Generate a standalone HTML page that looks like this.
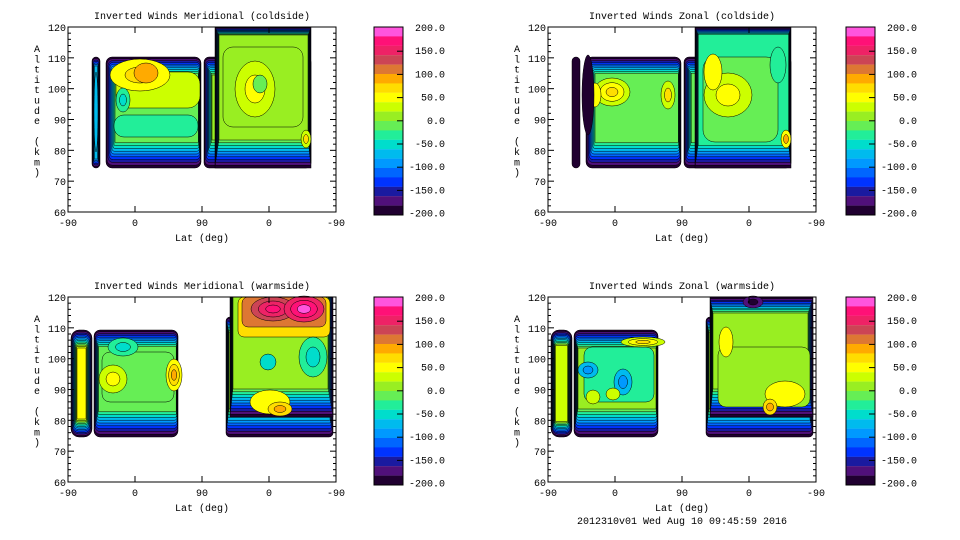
<!DOCTYPE html>
<html><head><meta charset="utf-8">
<style>
html,body{margin:0;padding:0;background:#fff;}
svg{display:block;}
text{font-family:"Liberation Mono",monospace;font-size:10px;fill:#000;}
</style></head>
<body>
<svg id="s" width="960" height="540" viewBox="0 0 960 540" xmlns="http://www.w3.org/2000/svg"></svg>
<script>
const C=["#200030","#50107a","#1a1aa0","#0033ff","#0066ff","#0099ff","#00bbee","#00ddcc","#22ee99","#66ee55","#99ee22","#ccff00","#ffff00","#ffdd00","#ffaa00","#dd7733","#cc4455","#ee2266","#ff1177","#ff55dd"];
const s=document.getElementById('s');let h='';
function band(r,bx,by){
 const [x,y,w,hh,rad,top,sl,st,sr,sb]=r;
 for(let i=0;i<=top;i++){const X=x+i*sl,Y=y+i*st,W=w-i*(sl+sr),H=hh-i*(st+sb);if(W<=1||H<=1)break;
  h+=`<rect x="${bx+X}" y="${by+Y}" width="${W}" height="${H}" rx="${Math.max(0,rad-i*0.6)}" fill="${C[i]}" stroke="#000" stroke-width="0.5"/>`;}
}
function sheet(r,bx,by){const [x,y,w,hh,l,rx]=r;
 h+=`<rect x="${bx+x}" y="${by+y}" width="${w}" height="${hh}" rx="${rx||6}" fill="${C[l]}" stroke="#000" stroke-width="0.5"/>`;}
function blob(b,bx,by){
 const [cx,cy,rx,ry,lv]=b;
 lv.forEach((l,i)=>{const f=1-i/lv.length;h+=`<ellipse cx="${bx+cx}" cy="${by+cy}" rx="${rx*f}" ry="${ry*f}" fill="${C[l]}" stroke="#000" stroke-width="0.5"/>`;});
}
function panel(bx,by,title,regs,sheets,blobs,cbx){
 regs.forEach(r=>band(r,bx,by));
 sheets.forEach(r=>sheet(r,bx,by));
 blobs.forEach(b=>blob(b,bx,by));
 h+=`<rect x="${bx}" y="${by}" width="268" height="185" fill="none" stroke="#000" stroke-width="1"/>`;
 h+=`<text x="${bx+134}" y="${by-8}" text-anchor="middle">${title}</text>`;
 for(let k=0;k<=30;k++){const y=by+185-k*185/30;const L=(k%5==0)?6:3;
  h+=`<line x1="${bx}" y1="${y}" x2="${bx+L}" y2="${y}" stroke="#000"/><line x1="${bx+268-L}" y1="${y}" x2="${bx+268}" y2="${y}" stroke="#000"/>`;
  if(k%5==0)h+=`<text x="${bx-2}" y="${y+4}" text-anchor="end">${60+k*2}</text>`;}
 ["-90","0","90","0","-90"].forEach((t,i)=>{const x=bx+i*67;
  h+=`<line x1="${x}" y1="${by+185}" x2="${x}" y2="${by+179}" stroke="#000"/><line x1="${x}" y1="${by}" x2="${x}" y2="${by+6}" stroke="#000"/>`;
  h+=`<text x="${x}" y="${by+199}" text-anchor="middle">${t}</text>`;});
 h+=`<text x="${bx+134}" y="${by+214}" text-anchor="middle">Lat (deg)</text>`;
 "Altitude (km)".split('').forEach((c,i)=>{h+=`<text x="${bx-31}" y="${by+25+i*10.3}" text-anchor="middle">${c}</text>`;});
 for(let i=0;i<20;i++){h+=`<rect x="${cbx}" y="${by+i*9.4}" width="29" height="9.5" fill="${C[19-i]}"/>`;}
 h+=`<rect x="${cbx}" y="${by}" width="29" height="188" fill="none" stroke="#000"/>`;
 for(let k=0;k<=8;k++){const y=by+1+k*23.2;const v=(200-k*50).toFixed(1);
  if(k>0&&k<8)h+=`<line x1="${cbx+23}" y1="${y}" x2="${cbx+29}" y2="${y}" stroke="#000"/>`;
  h+=`<text x="${cbx+71}" y="${y+3}" text-anchor="end">${v}</text>`;}
}
// TL
panel(68,27,"Inverted Winds Meridional (coldside)",
 [[24,30,8,111,4,6,0.4,1.5,0.4,1.5],
  [38,30,95,111,6,9,1.0,1.8,0.3,2.8],
  [136,30,107,111,5,10,0.8,1.8,0.2,2.8],
  [147,0,96,141,0,10,0.4,0.8,0.3,2.8]],
 [[46,88,84,22,8,10],[48,45,84,36,11,12],[155,20,80,80,10,10]],
 [[72,48,30,16,[12,13]],[78,46,12,10,[14]],[55,73,7,12,[8,7]],[187,62,20,28,[11,12]],[192,57,7,9,[9]],[238,112,5,9,[11,13]],[28,85,2,40,[6]]],374);
// TR
panel(548,27,"Inverted Winds Zonal (coldside)",
 [[24,30,8,111,4,0,0.3,1.5,0.3,1.5],
  [38,30,95,111,6,9,1.0,1.8,0.3,2.8],
  [136,30,107,111,5,9,0.8,1.8,0.2,2.8],
  [147,0,96,141,0,8,0.4,0.9,0.3,2.8]],
 [[155,30,75,85,9,12]],
 [[64,65,18,14,[11,12,13]],[47,68,6,12,[12]],[120,68,7,14,[11,13]],[180,68,24,22,[11,12]],[165,45,9,18,[12]],[238,112,5,9,[12,14]],[40,68,6,40,[0]],[230,38,8,18,[8]]],846);
// BL
panel(68,297,"Inverted Winds Meridional (warmside)",
 [[3,33,21,107,8,12,0.5,1.5,0.5,1.5],
  [26,33,84,107,6,9,0.5,1.8,0.2,2.8],
  [158,20,107,120,4,10,0.3,1.5,0.5,2.8],
  [162,0,103,120,0,10,0.3,0,0.5,2.8]],
 [[34,55,72,50,9,8],[170,0,92,40,13,6],[174,0,84,30,15,6]],
 [[45,82,14,14,[11,12]],[106,78,8,16,[12,13,14]],[55,50,15,9,[8,7]],
  [205,12,22,12,[16,17,18]],[236,12,20,13,[17,18,19]],[200,65,8,8,[7]],[202,105,20,12,[12]],[212,112,12,7,[13,14]],[245,60,14,20,[8,7]]],374);
// BR
panel(548,297,"Inverted Winds Zonal (warmside)",
 [[3,33,21,107,8,11,0.4,1.4,0.4,1.4],
  [26,33,84,107,6,10,0.4,1.8,0.2,2.8],
  [158,20,107,120,4,10,0.3,1.5,0.5,2.8],
  [162,0,103,120,0,10,0.3,1.6,0.5,2.8]],
 [[36,50,70,55,8,8],[170,50,92,60,10,8]],
 [[95,45,22,5,[11,12,13]],[40,73,10,8,[6,5]],[75,85,9,13,[6,5]],[45,100,7,7,[11]],[65,97,7,6,[11]],[178,45,7,15,[12]],[237,97,20,13,[12]],[222,110,7,8,[13,14]],[205,5,10,6,[1,0]]],846);
h+=`<text x="682" y="524" text-anchor="middle">2012310v01 Wed Aug 10 09:45:59 2016</text>`;
s.innerHTML=h;
</script>
</body></html>
